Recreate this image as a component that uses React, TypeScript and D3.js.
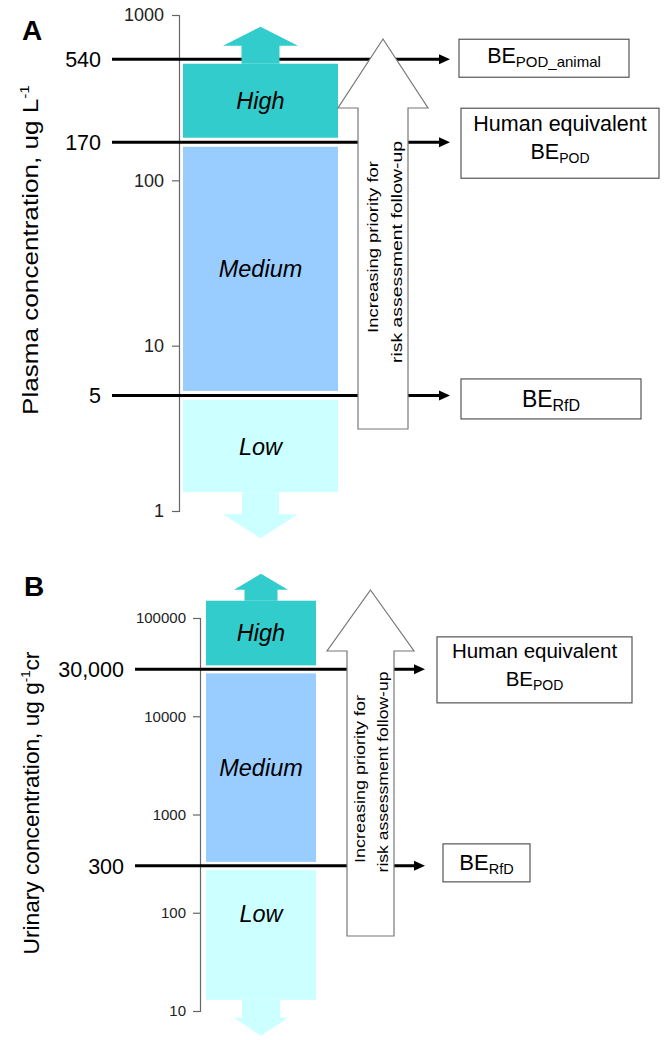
import React, { useEffect, useRef } from 'react';
import * as d3 from 'd3';

// level bands
const levelNames = ['High', 'Medium', 'Low'];
const levelColors = ['#33CCCC', '#99CCFF', '#CCFFFF'];

// panel A: plasma
const plasmaTicks = [1, 10, 100, 1000];
const plasmaCutoffs = [540, 170, 5];
const plasmaCutoffLabels = ['540', '170', '5'];
const plasmaLevelRanges = [[170, 540], [5, 170], [1.3, 5]];
const plasmaBoxTop = ['', 'Human equivalent', ''];
const plasmaBoxSub = ['POD_animal', 'POD', 'RfD'];

// panel B: urinary
const urinaryTicks = [10, 100, 1000, 10000, 100000];
const urinaryCutoffs = [30000, 300];
const urinaryCutoffLabels = ['30,000', '300'];
const urinaryLevelRanges = [[30000, 150000], [300, 30000], [13, 300]];
const urinaryBoxTop = ['Human equivalent', ''];
const urinaryBoxSub = ['POD', 'RfD'];

const priorityLines = ['Increasing priority for', 'risk assessment follow-up'];

const FONT = '"Liberation Sans", Arial, sans-serif';

const panels = [
  {
    letter: 'A', letterX: 22, letterY: 40,
    title: 'Plasma concentration, ug L', titleSup: '-1', titleTail: '',
    titleX: 38, titleY: 250, titleLen: 330, titleFont: 22,
    ticks: plasmaTicks, cutoffs: plasmaCutoffs, cutoffLabels: plasmaCutoffLabels,
    ranges: plasmaLevelRanges, boxTop: plasmaBoxTop, boxSub: plasmaBoxSub,
    domain: [1, 1000], range: [511, 15],
    axisX: 179, tickFont: 18, tickPad: 8, cutFont: 21.5, cutLabelX: 101,
    lineX0: 112, lineX1: 450, rectX0: 183, rectX1: 338, gap: 4.5,
    labelDy: [0, 0, 0], levelFont: 23.5,
    up: { body: 19, head: 37.5, bodyLen: 18, headLen: 19 },
    down: { body: 18.5, head: 37.5, bodyLen: 22, headLen: 24 },
    prio: { cx: 383, head: 45, body: 25, tip: 39, base: 108, bottom: 429, font: 15,
      lines: [{ x: 378, y: 247, len: 172 }, { x: 402, y: 252, len: 222 }] },
    boxes: [
      { x: 459, w: 170, h: 38, dy: -1, font: 21.5, sub: 15, base: 5, l1: 0 },
      { x: 461, w: 198, h: 70, dy: 1, font: 21.5, sub: 14, base: 16, l1: -12 },
      { x: 461, w: 180, h: 40, dy: 3.5, font: 23, sub: 16, base: 8, l1: 0 },
    ],
  },
  {
    letter: 'B', letterX: 24, letterY: 596,
    title: 'Urinary concentration, ug g', titleSup: '-1', titleTail: 'cr',
    titleX: 39, titleY: 803, titleLen: 303, titleFont: 22.5,
    ticks: urinaryTicks, cutoffs: urinaryCutoffs, cutoffLabels: urinaryCutoffLabels,
    ranges: urinaryLevelRanges, boxTop: urinaryBoxTop, boxSub: urinaryBoxSub,
    domain: [10, 100000], range: [1011, 618],
    axisX: 200, tickFont: 15, tickPad: 7, cutFont: 21.5, cutLabelX: 124,
    lineX0: 135, lineX1: 425, rectX0: 206, rectX1: 316, gap: 4,
    labelDy: [0, 0, -21], levelFont: 23.5,
    up: { body: 16.5, head: 27, bodyLen: 11, headLen: 16 },
    down: { body: 19, head: 27, bodyLen: 18, headLen: 18 },
    prio: { cx: 370.5, head: 43.5, body: 23.5, tip: 590, base: 651, bottom: 936, font: 15,
      lines: [{ x: 365, y: 779, len: 168 }, { x: 388, y: 772, len: 201 }] },
    boxes: [
      { x: 437, w: 195, h: 66, dy: 0.5, font: 20.5, sub: 14, base: 16, l1: -12 },
      { x: 443, w: 87, h: 38, dy: -3, font: 22, sub: 14.5, base: 7, l1: 0 },
    ],
  },
];

// stretch rotated text so that it spans a measured length
function fitRotated(sel, x, y, len) {
  const w = sel.node().getComputedTextLength();
  const s = w > 0 ? len / w : 1;
  sel.attr('transform', `translate(${x},${y}) rotate(-90) scale(${s},1)`);
}

function drawPanel(svg, p) {
  const y = d3.scaleLog().domain(p.domain).range(p.range);
  const g = svg.append('g').style('font-family', FONT);

  // panel letter
  g.append('text')
    .attr('x', p.letterX).attr('y', p.letterY)
    .style('font-size', '28px').style('font-weight', 'bold')
    .text(p.letter);

  // y title
  const title = g.append('text')
    .attr('text-anchor', 'middle')
    .style('font-size', `${p.titleFont}px`);
  title.append('tspan').text(p.title);
  title.append('tspan').attr('dy', -9).style('font-size', '13px').text(p.titleSup);
  if (p.titleTail) title.append('tspan').attr('dy', 9).text(p.titleTail);
  fitRotated(title, p.titleX, p.titleY, p.titleLen);

  // axis
  const axis = d3.axisLeft(y)
    .tickValues(p.ticks)
    .tickFormat(d3.format('d'))
    .tickSize(7)
    .tickPadding(p.tickPad);
  const ag = g.append('g').attr('transform', `translate(${p.axisX},0)`).call(axis);
  ag.select('.domain').attr('stroke', '#666').attr('stroke-width', 1.2);
  ag.selectAll('.tick line').attr('stroke', '#666').attr('stroke-width', 1.2);
  ag.selectAll('.tick text')
    .attr('fill', '#222')
    .style('font-family', FONT)
    .style('font-size', `${p.tickFont}px`);

  // cutoff lines with arrowheads
  p.cutoffs.forEach((c, i) => {
    const yy = y(c);
    g.append('line')
      .attr('x1', p.lineX0).attr('x2', p.lineX1 - 8)
      .attr('y1', yy).attr('y2', yy)
      .attr('stroke', '#000').attr('stroke-width', 3);
    g.append('path')
      .attr('d', `M${p.lineX1 - 11},${yy - 5}L${p.lineX1},${yy}L${p.lineX1 - 11},${yy + 5}Z`)
      .attr('fill', '#000');
    g.append('text')
      .attr('x', p.cutLabelX).attr('y', yy)
      .attr('dy', '0.36em')
      .attr('text-anchor', 'end')
      .style('font-size', `${p.cutFont}px`)
      .text(p.cutoffLabels[i]);
  });

  // level bands
  const isCut = v => p.cutoffs.includes(v);
  const cx = (p.rectX0 + p.rectX1) / 2;
  p.ranges.forEach(([lo, hi], i) => {
    const top = y(hi) + (isCut(hi) ? p.gap : 0);
    const bot = y(lo) - (isCut(lo) ? p.gap : 0);
    g.append('rect')
      .attr('x', p.rectX0).attr('y', top)
      .attr('width', p.rectX1 - p.rectX0).attr('height', bot - top)
      .attr('fill', levelColors[i]);
    if (i === 0) {
      const a = p.up, b = top - a.bodyLen;
      g.append('path')
        .attr('d', `M${cx - a.body},${top}V${b}H${cx - a.head}L${cx},${b - a.headLen}L${cx + a.head},${b}H${cx + a.body}V${top}Z`)
        .attr('fill', levelColors[i]);
    }
    if (i === p.ranges.length - 1) {
      const a = p.down, b = bot + a.bodyLen;
      g.append('path')
        .attr('d', `M${cx - a.body},${bot}V${b}H${cx - a.head}L${cx},${b + a.headLen}L${cx + a.head},${b}H${cx + a.body}V${bot}Z`)
        .attr('fill', levelColors[i]);
    }
    g.append('text')
      .attr('x', cx).attr('y', (top + bot) / 2 + p.labelDy[i])
      .attr('dy', '0.36em')
      .attr('text-anchor', 'middle')
      .style('font-size', `${p.levelFont}px`)
      .style('font-style', 'italic')
      .text(levelNames[i]);
  });

  // priority arrow
  const q = p.prio;
  g.append('path')
    .attr('d', `M${q.cx},${q.tip}L${q.cx + q.head},${q.base}H${q.cx + q.body}V${q.bottom}H${q.cx - q.body}V${q.base}H${q.cx - q.head}Z`)
    .attr('fill', '#fff')
    .attr('stroke', '#777')
    .attr('stroke-width', 1.2);
  q.lines.forEach((ln, i) => {
    const t = g.append('text')
      .attr('text-anchor', 'middle')
      .style('font-size', `${q.font}px`)
      .text(priorityLines[i]);
    fitRotated(t, ln.x, ln.y, ln.len);
  });

  // guidance boxes
  p.cutoffs.forEach((c, i) => {
    const b = p.boxes[i];
    const mid = y(c) + b.dy;
    g.append('rect')
      .attr('x', b.x).attr('y', mid - b.h / 2)
      .attr('width', b.w).attr('height', b.h)
      .attr('fill', '#fff')
      .attr('stroke', '#555')
      .attr('stroke-width', 1.2);
    const bx = b.x + b.w / 2;
    if (p.boxTop[i]) {
      g.append('text')
        .attr('x', bx).attr('y', mid + b.l1)
        .attr('text-anchor', 'middle')
        .style('font-size', `${b.font}px`)
        .text(p.boxTop[i]);
    }
    const t = g.append('text')
      .attr('x', bx).attr('y', mid + b.base)
      .attr('text-anchor', 'middle')
      .style('font-size', `${b.font}px`);
    t.append('tspan').text('BE');
    t.append('tspan').attr('dy', 4).style('font-size', `${b.sub}px`).text(p.boxSub[i]);
  });
}

export default function App() {
  const ref = useRef(null);

  useEffect(() => {
    const svg = d3.select(ref.current);
    svg.selectAll('*').remove();
    panels.forEach(p => drawPanel(svg, p));
  }, []);

  return (
    <svg
      ref={ref}
      width={664}
      height={1040}
      style={{ position: 'absolute', left: 0, top: 0, background: '#fff' }}
    />
  );
}
